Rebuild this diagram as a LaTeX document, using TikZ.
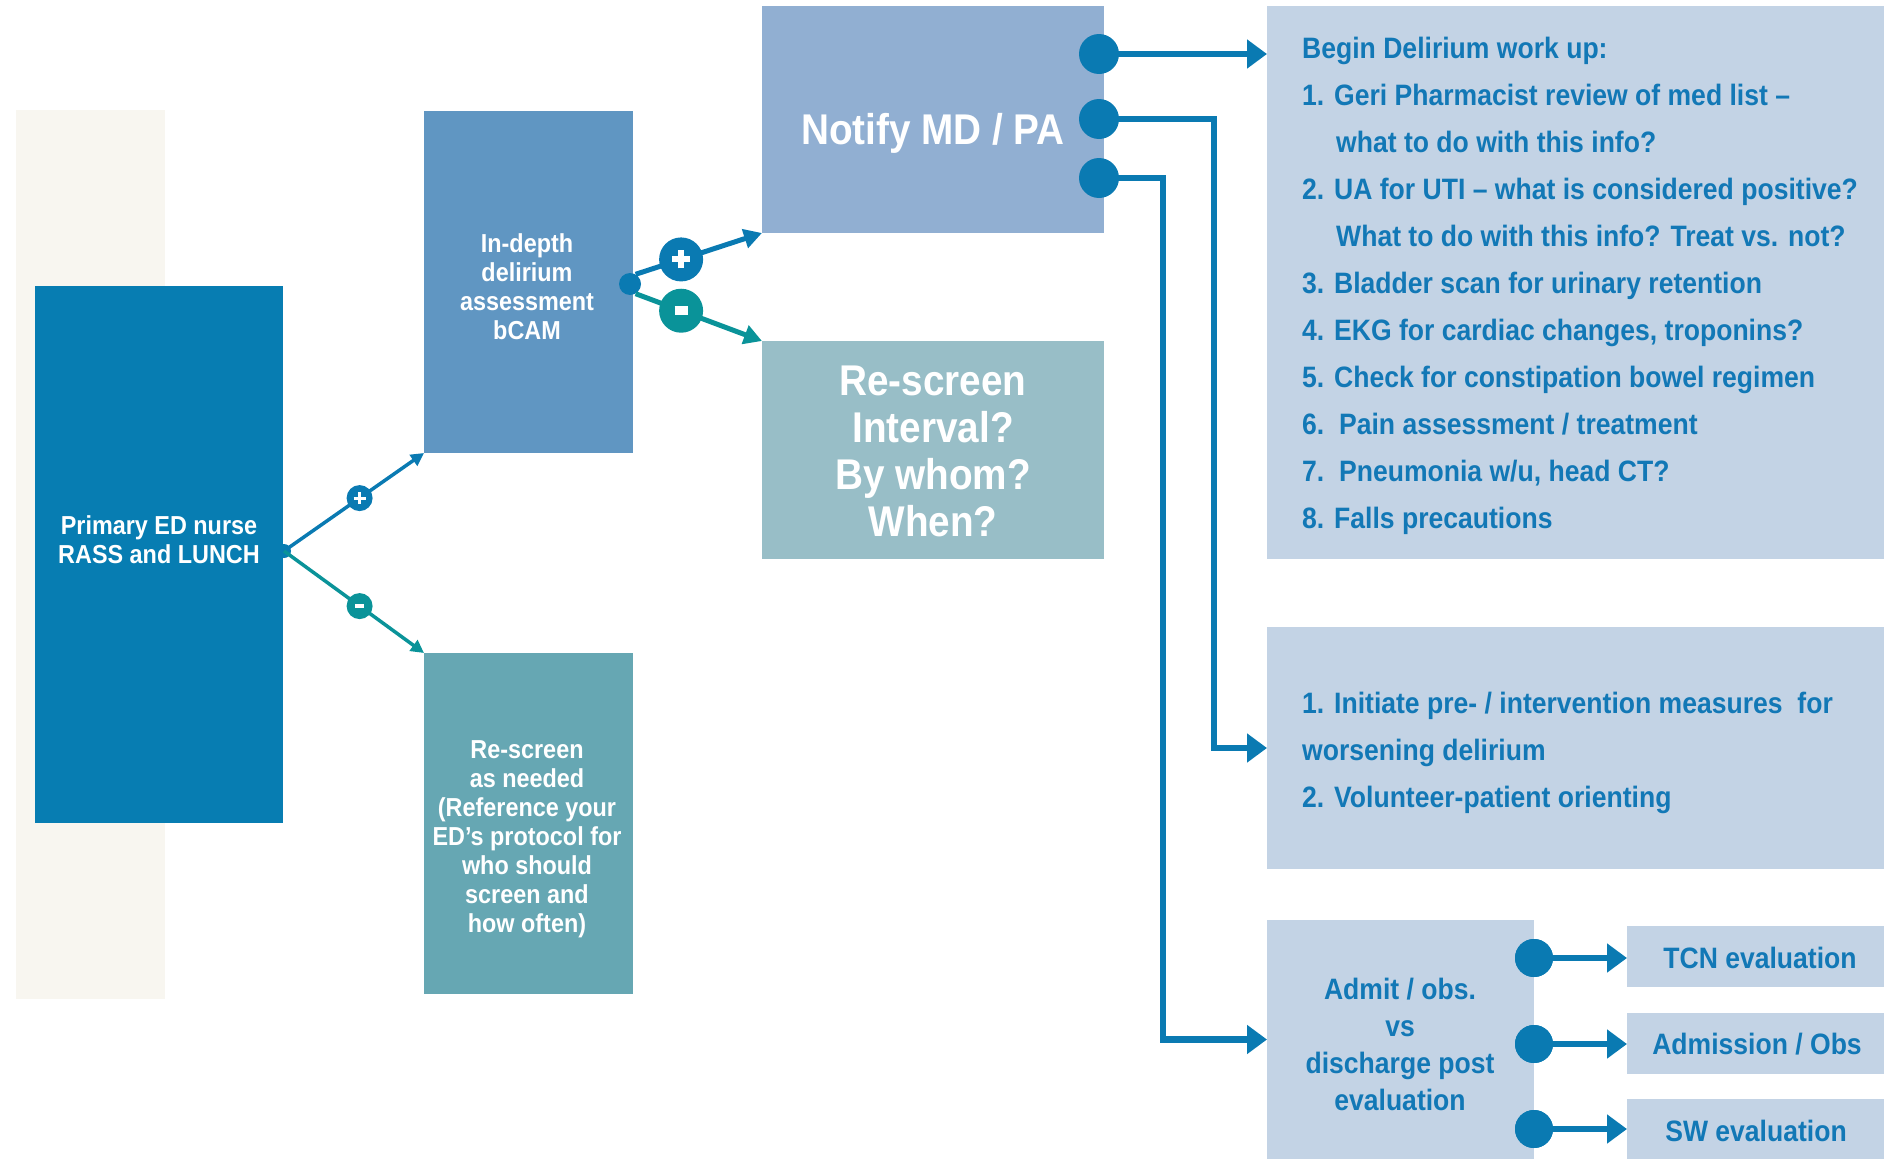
\documentclass[tikz,border=0pt]{standalone}
\usepackage{fontspec}
\setmainfont{Liberation Sans}[FakeStretch=0.9]
\usetikzlibrary{arrows.meta}

\definecolor{beige}{RGB}{248,246,240}
\definecolor{primaryblue}{RGB}{7,125,178}
\definecolor{depthblue}{RGB}{96,150,194}
\definecolor{rescreenteal}{RGB}{102,167,179}
\definecolor{notifyblue}{RGB}{145,175,210}
\definecolor{intervalteal}{RGB}{152,190,199}
\definecolor{paleblue}{RGB}{195,211,229}
\definecolor{linkblue}{RGB}{10,122,178}
\definecolor{linkteal}{RGB}{10,147,153}
\definecolor{textblue}{RGB}{18,120,182}

\newcommand\fsz[2]{\fontsize{#1}{#2}\selectfont\bfseries}

\tikzset{
  box/.style={rectangle, draw=none, inner sep=0pt, outer sep=0pt, anchor=north west},
  wtext/.style={text=white, align=center, inner sep=0pt},
  btext/.style={text=textblue, inner sep=0pt},
  smalllink/.style={line width=3.5pt, -{Triangle[length=13pt,width=13pt]}},
  midlink/.style={line width=5pt, -{Triangle[length=18pt,width=19pt]}},
  biglink/.style={draw=linkblue, line width=6.5pt, -{Triangle[length=20pt,width=28pt]}},
  dot/.style={circle, fill=linkblue, inner sep=0pt, minimum size=#1},
  possign/.style n args={4}{circle, fill=#1, inner sep=0pt, minimum size=#2,
    path picture={\draw[-, white, line width=#4, line cap=butt]
      (path picture bounding box.center) ++(-#3,0pt) -- ++(2*#3,0pt)
      (path picture bounding box.center) ++(0pt,-#3) -- ++(0pt,2*#3);}},
  negsign/.style n args={4}{circle, fill=#1, inner sep=0pt, minimum size=#2,
    path picture={\draw[-, white, line width=#4, line cap=butt]
      (path picture bounding box.center) ++(-#3,0pt) -- ++(2*#3,0pt);}},
}

\begin{document}
\begin{tikzpicture}[x=1pt, y=-1pt]
\useasboundingbox (0,0) rectangle (1890,1159);

% backdrop strip
\fill[beige] (16,110) rectangle (165,999);

% boxes
\node[box, fill=primaryblue, minimum width=248, minimum height=537] (primary) at (35,286) {};
\node[box, fill=depthblue, minimum width=209, minimum height=342] (depth) at (424,111) {};
\node[box, fill=rescreenteal, minimum width=209, minimum height=341] (rescreen) at (424,653) {};
\node[box, fill=notifyblue, minimum width=342, minimum height=227] (notify) at (762,6) {};
\node[box, fill=intervalteal, minimum width=342, minimum height=218] (interval) at (762,341) {};
\node[box, fill=paleblue, minimum width=617, minimum height=553] (workup) at (1267,6) {};
\node[box, fill=paleblue, minimum width=617, minimum height=242] (prevent) at (1267,627) {};
\node[box, fill=paleblue, minimum width=267, minimum height=239] (admit) at (1267,920) {};
\node[box, fill=paleblue, minimum width=257, minimum height=61] (tcn) at (1627,926) {};
\node[box, fill=paleblue, minimum width=257, minimum height=61] (admission) at (1627,1013) {};
\node[box, fill=paleblue, minimum width=257, minimum height=60] (sw) at (1627,1099) {};

% box texts
\node[wtext, font=\fsz{26}{29}] (primaryText) at (159,540) {Primary ED nurse\\RASS and LUNCH};
\node[wtext, font=\fsz{26}{29}] (depthText) at (527,287) {In-depth\\delirium\\assessment\\bCAM};
\node[wtext, font=\fsz{26}{29}] (rescreenText) at (527,839) {Re-screen\\as needed\\(Reference your\\ED’s protocol for\\who should\\screen and\\how often)};
\node[wtext, font=\fsz{43}{47}] (notifyText) at (933,133) {Notify MD / PA};
\node[wtext, font=\fsz{43}{47}] (intervalText) at (933,451) {Re-screen\\Interval?\\By whom?\\When?};

\node[btext, font=\fsz{29.5}{47}, align=left, anchor=north west] (workupText) at (1302,37)
{Begin Delirium work up:\\
1. Geri Pharmacist review of med list –\\
\hspace*{34pt}what to do with this info?\\
2. UA for UTI – what is considered positive?\\
\hspace*{34pt}What to do with this info? Treat vs. not?\\
3. Bladder scan for urinary retention\\
4. EKG for cardiac changes, troponins?\\
5. Check for constipation bowel regimen\\
6.\ \ Pain assessment / treatment\\
7.\ \ Pneumonia w/u, head CT?\\
8. Falls precautions};

\node[btext, font=\fsz{29.5}{47}, align=left, anchor=north west] (preventText) at (1302,692)
{1. Initiate pre- / intervention measures\ \ for\\
worsening delirium\\
2. Volunteer-patient orienting};

\node[btext, font=\fsz{29.5}{37}, align=center] (admitText) at (1400,1044) {Admit / obs.\\vs\\discharge post\\evaluation};
\node[btext, font=\fsz{29.5}{37}] (tcnText) at (1760,958) {TCN evaluation};
\node[btext, font=\fsz{29.5}{37}] (admissionText) at (1757,1044) {Admission / Obs};
\node[btext, font=\fsz{29.5}{37}] (swText) at (1756,1131) {SW evaluation};

% first screen branches
\node[circle, fill=primaryblue, inner sep=0pt, minimum size=14] (pjunction) at (284,551) {};
\draw[smalllink, draw=linkblue, fill=linkblue] (pjunction.center) -- (depth.south west)
  node[pos=0.54, possign={linkblue}{26pt}{6pt}{3pt}] (pposA) {};
\draw[smalllink, draw=linkteal, fill=linkteal] (pjunction.center) -- (rescreen.north west)
  node[pos=0.54, negsign={linkteal}{26pt}{4.5pt}{4.5pt}] (pnegA) {};

% bCAM branches
\node[dot=22pt] (ddot) at (630,284) {};
\draw[midlink, draw=linkblue, fill=linkblue] (ddot.60) -- (notify.south west)
  node[pos=0.36, possign={linkblue}{44pt}{9pt}{6pt}] (pposB) {};
\draw[midlink, draw=linkteal, fill=linkteal] (ddot.-60) -- (interval.north west)
  node[pos=0.36, negsign={linkteal}{44pt}{6.5pt}{9pt}] (pnegB) {};

% notify outputs
\coordinate (bendA) at (1214,0);
\coordinate (bendB) at (1163,0);
\draw[biglink] (1099,54) -- (workup.west |- 0,54);
\draw[biglink] (1099,119) -| (bendA |- prevent.west) -- (prevent.west);
\draw[biglink] (1099,178) -| (bendB |- admit.west) -- (admit.west);
\node[dot=40pt] (nd1) at (1099,54) {};
\node[dot=40pt] (nd2) at (1099,119) {};
\node[dot=40pt] (nd3) at (1099,178) {};

% disposition outputs
\node[dot=38pt] (ad1) at (1534,958) {};
\node[dot=38pt] (ad2) at (1534,1044) {};
\node[dot=38pt] (ad3) at (1534,1129) {};
\draw[biglink] (ad1.center) -- (tcn.west |- ad1);
\draw[biglink] (ad2.center) -- (admission.west |- ad2);
\draw[biglink] (ad3.center) -- (sw.west |- ad3);
\node[dot=38pt] at (ad1) {};
\node[dot=38pt] at (ad2) {};
\node[dot=38pt] at (ad3) {};
\end{tikzpicture}
\end{document}
